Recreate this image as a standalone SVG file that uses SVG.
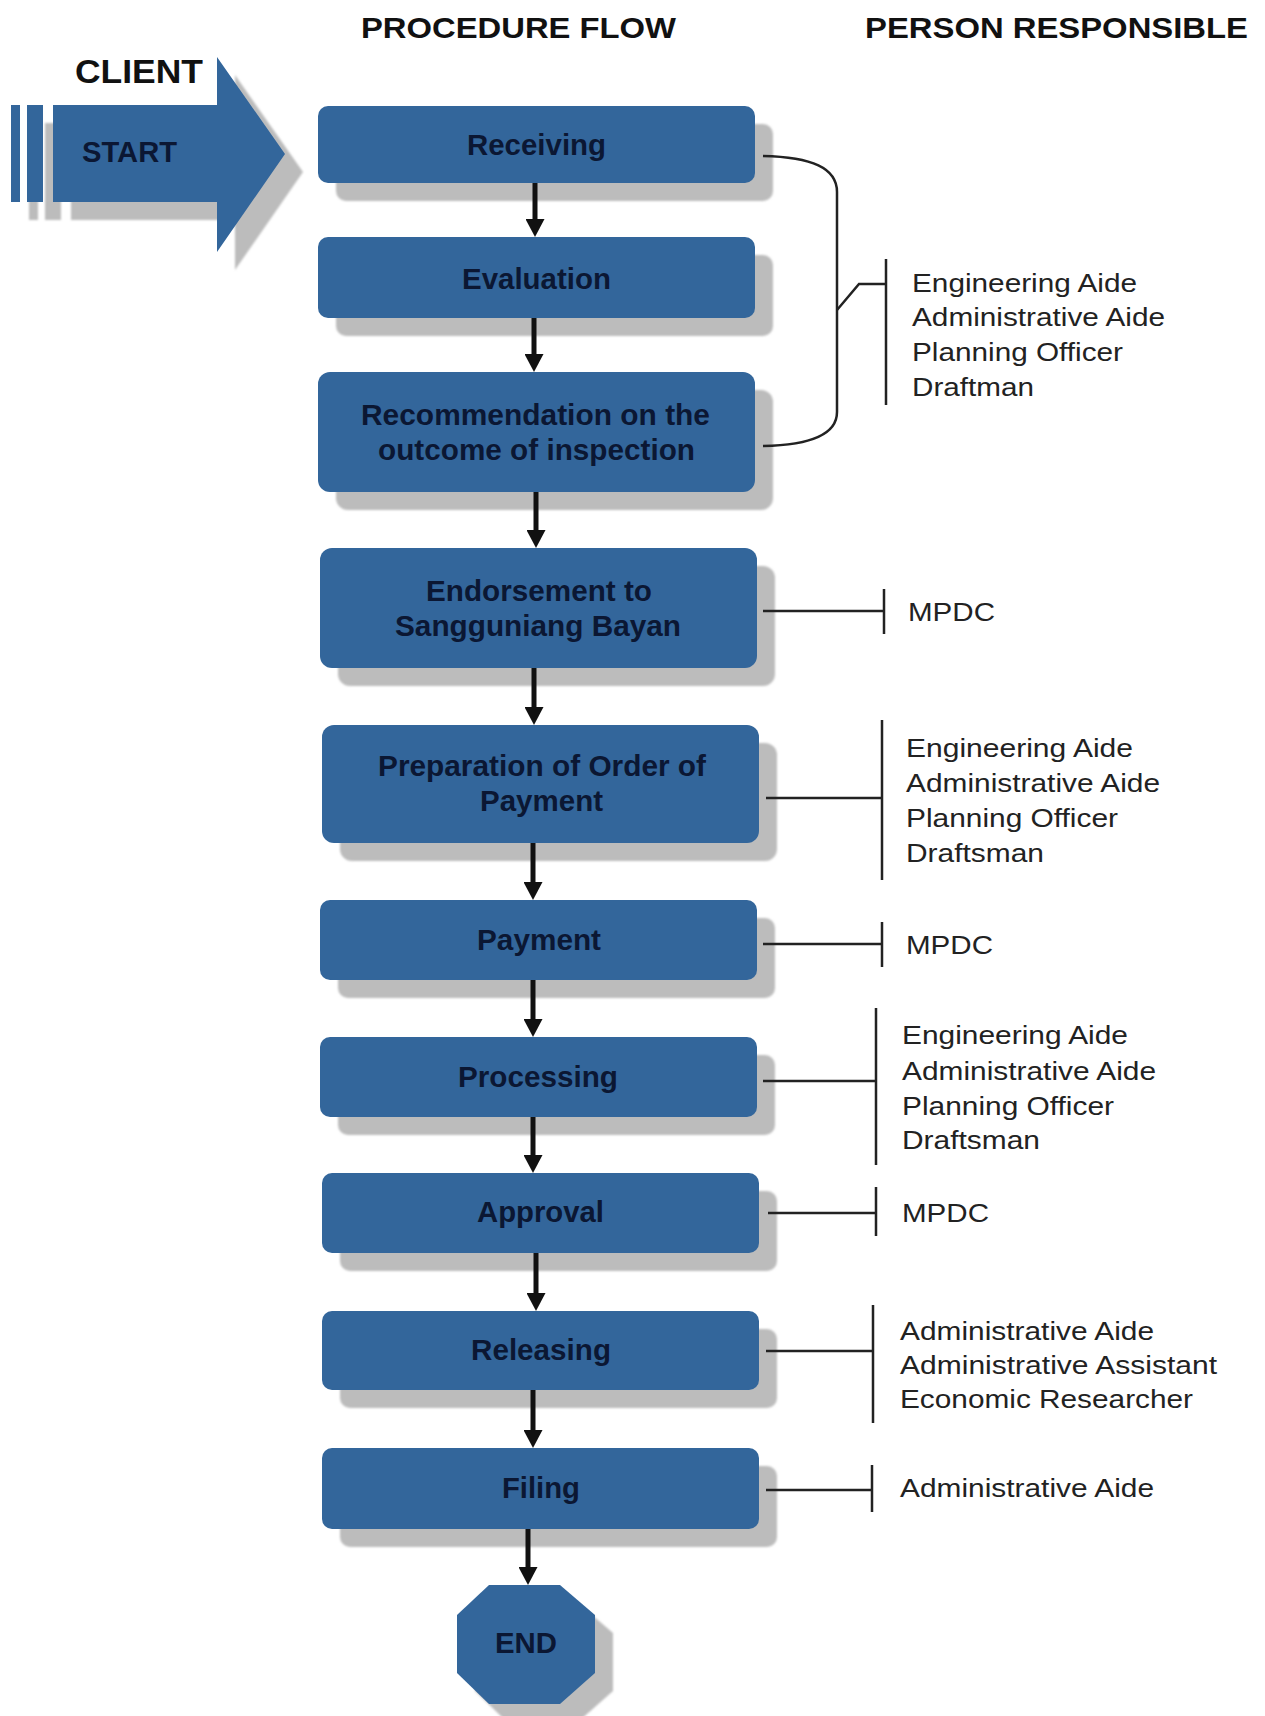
<svg xmlns="http://www.w3.org/2000/svg" width="1265" height="1716" viewBox="0 0 1265 1716">
<style>
.box{fill:#33669b}
.shadow{fill:#bcbcbc}
.lbl{font-family:"Liberation Sans",Arial,sans-serif;font-weight:bold;font-size:29px;fill:#0b1733}
.hdr{font-family:"Liberation Sans",Arial,sans-serif;font-weight:bold;font-size:30px;fill:#111}
.per{font-family:"Liberation Sans",Arial,sans-serif;font-size:26px;fill:#222}
.flow{fill:none;stroke:#111;stroke-width:5}
.brk{fill:none;stroke:#222;stroke-width:2.5}
</style>
<defs>
<filter id="soft" x="-10%" y="-10%" width="120%" height="120%"><feGaussianBlur stdDeviation="1.2"/></filter>
<marker id="ah" viewBox="0 0 18 19" refX="8" refY="9.5" markerWidth="18" markerHeight="19" markerUnits="userSpaceOnUse" orient="auto"><path d="M0,0 L18,9.5 L0,19 Z" fill="#111"/></marker>
</defs>
<rect width="1265" height="1716" fill="#fff"/>

<g id="headers">
<text class="hdr" x="361" y="38" textLength="315" lengthAdjust="spacingAndGlyphs">PROCEDURE FLOW</text>
<text class="hdr" x="865" y="38" textLength="383" lengthAdjust="spacingAndGlyphs">PERSON RESPONSIBLE</text>
</g>

<g id="start">
<g class="shadow" filter="url(#soft)" transform="translate(18,18)">
<rect x="11" y="105" width="9" height="97"/>
<rect x="27" y="105" width="16" height="97"/>
<path d="M53,105 H217 V57 L285,154 L217,252 V202 H53 Z"/>
</g>
<rect x="11" y="105" width="9" height="97" class="box"/>
<rect x="27" y="105" width="16" height="97" class="box"/>
<path d="M53,105 H217 V57 L285,154 L217,252 V202 H53 Z" class="box"/>
<text class="hdr" x="75" y="83" style="font-size:33px" textLength="128" lengthAdjust="spacingAndGlyphs">CLIENT</text>
<text class="lbl" x="82" y="162" style="font-size:30px" textLength="95" lengthAdjust="spacingAndGlyphs">START</text>
</g>

<g id="receiving">
<rect class="shadow" filter="url(#soft)" x="336" y="124" width="437" height="77" rx="10"/>
<rect class="box" x="318" y="106" width="437" height="77" rx="10"/>
<text class="lbl" x="467" y="155" textLength="139" lengthAdjust="spacingAndGlyphs">Receiving</text>
</g>
<g id="evaluation">
<rect class="shadow" filter="url(#soft)" x="336" y="255" width="437" height="81" rx="10"/>
<rect class="box" x="318" y="237" width="437" height="81" rx="10"/>
<text class="lbl" x="462" y="289" textLength="149" lengthAdjust="spacingAndGlyphs">Evaluation</text>
</g>
<g id="recommendation">
<rect class="shadow" filter="url(#soft)" x="336" y="390" width="437" height="120" rx="12"/>
<rect class="box" x="318" y="372" width="437" height="120" rx="12"/>
<text class="lbl" x="361" y="425" textLength="349" lengthAdjust="spacingAndGlyphs">Recommendation on the</text>
<text class="lbl" x="378" y="460" textLength="317" lengthAdjust="spacingAndGlyphs">outcome of inspection</text>
</g>
<g id="endorsement">
<rect class="shadow" filter="url(#soft)" x="338" y="566" width="437" height="120" rx="12"/>
<rect class="box" x="320" y="548" width="437" height="120" rx="12"/>
<text class="lbl" x="426" y="601" textLength="226" lengthAdjust="spacingAndGlyphs">Endorsement to</text>
<text class="lbl" x="395" y="636" textLength="286" lengthAdjust="spacingAndGlyphs">Sangguniang Bayan</text>
</g>
<g id="preparation">
<rect class="shadow" filter="url(#soft)" x="340" y="743" width="437" height="118" rx="12"/>
<rect class="box" x="322" y="725" width="437" height="118" rx="12"/>
<text class="lbl" x="378" y="776" textLength="328" lengthAdjust="spacingAndGlyphs">Preparation of Order of</text>
<text class="lbl" x="480" y="811" textLength="123" lengthAdjust="spacingAndGlyphs">Payment</text>
</g>
<g id="payment">
<rect class="shadow" filter="url(#soft)" x="338" y="918" width="437" height="80" rx="10"/>
<rect class="box" x="320" y="900" width="437" height="80" rx="10"/>
<text class="lbl" x="477" y="950" textLength="124" lengthAdjust="spacingAndGlyphs">Payment</text>
</g>
<g id="processing">
<rect class="shadow" filter="url(#soft)" x="338" y="1055" width="437" height="80" rx="10"/>
<rect class="box" x="320" y="1037" width="437" height="80" rx="10"/>
<text class="lbl" x="458" y="1087" textLength="160" lengthAdjust="spacingAndGlyphs">Processing</text>
</g>
<g id="approval">
<rect class="shadow" filter="url(#soft)" x="340" y="1191" width="437" height="80" rx="10"/>
<rect class="box" x="322" y="1173" width="437" height="80" rx="10"/>
<text class="lbl" x="477" y="1222" textLength="127" lengthAdjust="spacingAndGlyphs">Approval</text>
</g>
<g id="releasing">
<rect class="shadow" filter="url(#soft)" x="340" y="1329" width="437" height="79" rx="10"/>
<rect class="box" x="322" y="1311" width="437" height="79" rx="10"/>
<text class="lbl" x="471" y="1360" textLength="140" lengthAdjust="spacingAndGlyphs">Releasing</text>
</g>
<g id="filing">
<rect class="shadow" filter="url(#soft)" x="340" y="1466" width="437" height="81" rx="10"/>
<rect class="box" x="322" y="1448" width="437" height="81" rx="10"/>
<text class="lbl" x="502" y="1498" textLength="78" lengthAdjust="spacingAndGlyphs">Filing</text>
</g>
<g id="end">
<polygon class="shadow" filter="url(#soft)" transform="translate(18,18)" points="489,1585 560,1585 595,1615 595,1673 560,1704 489,1704 457,1673 457,1615"/>
<polygon class="box" points="489,1585 560,1585 595,1615 595,1673 560,1704 489,1704 457,1673 457,1615"/>
<text class="lbl" x="495" y="1653" textLength="62" lengthAdjust="spacingAndGlyphs">END</text>
</g>

<g id="connectors">
<path class="flow" marker-end="url(#ah)" d="M535,183 V227"/>
<path class="flow" marker-end="url(#ah)" d="M534,318 V362"/>
<path class="flow" marker-end="url(#ah)" d="M536,492 V538"/>
<path class="flow" marker-end="url(#ah)" d="M534,668 V715"/>
<path class="flow" marker-end="url(#ah)" d="M533,843 V890"/>
<path class="flow" marker-end="url(#ah)" d="M533,980 V1027"/>
<path class="flow" marker-end="url(#ah)" d="M533,1117 V1163"/>
<path class="flow" marker-end="url(#ah)" d="M536,1253 V1301"/>
<path class="flow" marker-end="url(#ah)" d="M533,1390 V1438"/>
<path class="flow" marker-end="url(#ah)" d="M528,1529 V1575"/>

<path class="brk" d="M763,156 C812,157 837,168 837,192 L837,412 C837,434 812,445 763,446"/>
<path class="brk" d="M837,310 L859,284 L886,284 M886,259 V405"/>
<path class="brk" d="M763,611 H884 M884,589 V634"/>
<path class="brk" d="M766,798 H882 M882,720 V880"/>
<path class="brk" d="M763,944 H882 M882,922 V967"/>
<path class="brk" d="M763,1081 H876 M876,1008 V1165"/>
<path class="brk" d="M768,1213 H876 M876,1187 V1236"/>
<path class="brk" d="M766,1351 H873 M873,1305 V1423"/>
<path class="brk" d="M766,1490 H872 M872,1465 V1512"/>
</g>

<g id="persons1">
<text class="per" x="912" y="292" textLength="225" lengthAdjust="spacingAndGlyphs">Engineering Aide</text>
<text class="per" x="912" y="326" textLength="253" lengthAdjust="spacingAndGlyphs">Administrative Aide</text>
<text class="per" x="912" y="361" textLength="211" lengthAdjust="spacingAndGlyphs">Planning Officer</text>
<text class="per" x="912" y="396" textLength="122" lengthAdjust="spacingAndGlyphs">Draftman</text>
</g>
<g id="persons2">
<text class="per" x="908" y="621" textLength="87" lengthAdjust="spacingAndGlyphs">MPDC</text>
</g>
<g id="persons3">
<text class="per" x="906" y="757" textLength="227" lengthAdjust="spacingAndGlyphs">Engineering Aide</text>
<text class="per" x="906" y="792" textLength="254" lengthAdjust="spacingAndGlyphs">Administrative Aide</text>
<text class="per" x="906" y="827" textLength="212" lengthAdjust="spacingAndGlyphs">Planning Officer</text>
<text class="per" x="906" y="862" textLength="138" lengthAdjust="spacingAndGlyphs">Draftsman</text>
</g>
<g id="persons4">
<text class="per" x="906" y="954" textLength="87" lengthAdjust="spacingAndGlyphs">MPDC</text>
</g>
<g id="persons5">
<text class="per" x="902" y="1044" textLength="226" lengthAdjust="spacingAndGlyphs">Engineering Aide</text>
<text class="per" x="902" y="1080" textLength="254" lengthAdjust="spacingAndGlyphs">Administrative Aide</text>
<text class="per" x="902" y="1115" textLength="212" lengthAdjust="spacingAndGlyphs">Planning Officer</text>
<text class="per" x="902" y="1149" textLength="138" lengthAdjust="spacingAndGlyphs">Draftsman</text>
</g>
<g id="persons6">
<text class="per" x="902" y="1222" textLength="87" lengthAdjust="spacingAndGlyphs">MPDC</text>
</g>
<g id="persons7">
<text class="per" x="900" y="1340" textLength="254" lengthAdjust="spacingAndGlyphs">Administrative Aide</text>
<text class="per" x="900" y="1374" textLength="317" lengthAdjust="spacingAndGlyphs">Administrative Assistant</text>
<text class="per" x="900" y="1408" textLength="293" lengthAdjust="spacingAndGlyphs">Economic Researcher</text>
</g>
<g id="persons8">
<text class="per" x="900" y="1497" textLength="254" lengthAdjust="spacingAndGlyphs">Administrative Aide</text>
</g>
</svg>
